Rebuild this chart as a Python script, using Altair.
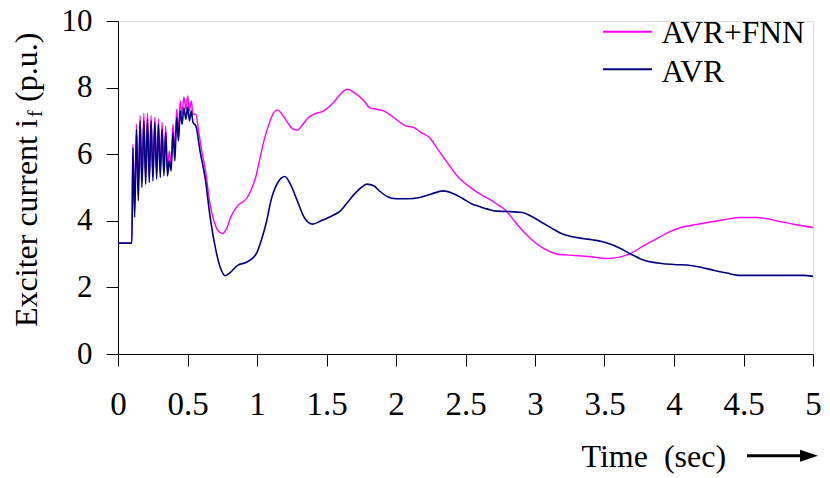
import altair as alt
import pandas as pd

# ---------------- data ----------------
t_osc = [0.107, 0.120, 0.133, 0.146, 0.159, 0.172, 0.186, 0.199, 0.212, 0.225,
         0.238, 0.251, 0.265, 0.278, 0.291, 0.304, 0.317, 0.330, 0.343, 0.356,
         0.369, 0.382, 0.396, 0.409, 0.422, 0.435, 0.448, 0.461, 0.474, 0.488,
         0.501, 0.514, 0.527, 0.540]

t_avr = [0, 0.1] + t_osc + [
    0.56, 0.59, 0.63, 0.66, 0.70, 0.74, 0.77, 0.80, 0.86, 0.92,
    0.96, 1.0, 1.03, 1.07, 1.10, 1.15, 1.2, 1.24, 1.29, 1.34,
    1.40, 1.46, 1.53, 1.6, 1.65, 1.7, 1.75, 1.79, 1.84, 1.88,
    1.94, 2.0, 2.08, 2.17, 2.25, 2.34, 2.41, 2.48, 2.55, 2.6,
    2.66, 2.72, 2.8, 2.91, 2.98, 3.05, 3.12, 3.19, 3.26, 3.34,
    3.41, 3.48, 3.54, 3.6, 3.68, 3.77, 3.84, 3.91, 4.0, 4.12,
    4.2, 4.29, 4.38, 4.48, 4.6, 4.75, 4.93, 5.0]
v_avr = [3.33, 3.33,
    6.2, 4.1, 6.75, 4.6, 7.0, 5.0, 7.0, 5.1, 7.05, 5.15,
    7.0, 5.2, 6.95, 5.25, 6.9, 5.3, 6.75, 5.35, 6.65, 5.35,
    5.8, 5.5, 6.65, 5.8, 7.1, 6.4, 7.3, 6.9, 7.4, 7.05,
    7.42, 7.0, 7.3, 6.95,
    6.85, 6.1, 5.2, 4.2, 3.2, 2.55, 2.35, 2.42, 2.66, 2.75,
    2.85, 3.05, 3.4, 4.0, 4.6, 5.15, 5.33, 5.1, 4.6, 4.1,
    3.9, 4.0, 4.13, 4.3, 4.55, 4.8, 5.0, 5.1, 5.05, 4.9,
    4.72, 4.66, 4.66, 4.7, 4.8, 4.9, 4.82, 4.67, 4.5, 4.43,
    4.35, 4.29, 4.28, 4.25, 4.12, 3.95, 3.78, 3.62, 3.53, 3.47,
    3.43, 3.38, 3.3, 3.2, 3.02, 2.84, 2.76, 2.72, 2.69, 2.66,
    2.6, 2.51, 2.43, 2.36, 2.36, 2.36, 2.36, 2.33]

t_fnn = [0, 0.1] + t_osc + [
    0.56, 0.58, 0.60, 0.63, 0.66, 0.69, 0.72, 0.75, 0.78, 0.81,
    0.86, 0.93, 0.96, 0.99, 1.02, 1.05, 1.09, 1.12, 1.15, 1.18,
    1.22, 1.26, 1.29, 1.33, 1.37, 1.41, 1.48, 1.55, 1.6, 1.65,
    1.7, 1.77, 1.81, 1.86, 1.91, 2.0, 2.07, 2.13, 2.18, 2.24,
    2.3, 2.36, 2.45, 2.52, 2.58, 2.65, 2.72, 2.79, 2.86, 2.93,
    3.0, 3.05, 3.11, 3.17, 3.29, 3.4, 3.52, 3.6, 3.69, 3.78,
    3.88, 3.96, 4.05, 4.15, 4.24, 4.36, 4.48, 4.6, 4.68, 4.76,
    4.88, 5.0]
v_fnn = [3.33, 3.33,
    6.3, 4.4, 6.9, 4.85, 7.16, 5.2, 7.23, 5.3, 7.23, 5.35,
    7.16, 5.4, 7.11, 5.45, 7.05, 5.5, 6.96, 5.55, 6.85, 5.55,
    6.1, 5.7, 6.9, 6.1, 7.35, 6.7, 7.6, 7.2, 7.72, 7.35,
    7.75, 7.3, 7.6, 7.2,
    7.2, 6.7, 6.15, 5.5, 4.55, 4.0, 3.7, 3.62, 3.75, 4.1,
    4.45, 4.7, 4.95, 5.3, 5.85, 6.4, 6.95, 7.25, 7.33, 7.2,
    6.95, 6.75, 6.72, 6.9, 7.1, 7.2, 7.3, 7.55, 7.8, 7.95,
    7.85, 7.6, 7.4, 7.35, 7.3, 7.05, 6.85, 6.8, 6.65, 6.5,
    6.15, 5.8, 5.3, 5.05, 4.87, 4.7, 4.52, 4.31, 3.95, 3.62,
    3.35, 3.2, 3.07, 2.99, 2.96, 2.92, 2.87, 2.9, 3.02, 3.25,
    3.47, 3.65, 3.8, 3.88, 3.95, 4.03, 4.1, 4.1, 4.05, 3.98,
    3.88, 3.8]

x_ticks = [0, 0.5, 1, 1.5, 2, 2.5, 3, 3.5, 4, 4.5, 5]
y_ticks = [0, 2, 4, 6, 8, 10]
series = ["AVR+FNN", "AVR"]
colors = ["#FF00FF", "#000080"]

FONT = "Liberation Serif"
W, H = 695, 333

df_fnn = pd.DataFrame({"t": t_fnn, "v": v_fnn, "s": series[0]})
df_avr = pd.DataFrame({"t": t_avr, "v": v_avr, "s": series[1]})

x_enc = alt.X("t:Q", scale=alt.Scale(domain=[0, 5], nice=False),
              axis=alt.Axis(values=x_ticks, format="~g", title=None, grid=False,
                            tickSize=12, labelFontSize=33, labelPadding=22,
                            labelFont=FONT, labelColor="black", domainColor="black",
                            tickColor="black", labelFlush=False, labelOverlap=False))
y_enc = alt.Y("v:Q", scale=alt.Scale(domain=[0, 10], nice=False),
              axis=alt.Axis(values=y_ticks, title=None, grid=False,
                            tickSize=12, labelFontSize=31, labelPadding=14,
                            labelFont=FONT, labelColor="black", domainColor="black",
                            tickColor="black", labelOverlap=False))

line_fnn = alt.Chart(df_fnn).mark_line(color=colors[0], strokeWidth=1.4,
                                       interpolate="monotone").encode(x=x_enc, y=y_enc)
line_avr = alt.Chart(df_avr).mark_line(color=colors[1], strokeWidth=1.6,
                                       interpolate="monotone").encode(x="t:Q", y="v:Q")


def txt(s, x, y, size=32, align="left", angle=None):
    kw = dict(align=align, baseline="alphabetic", font=FONT, fontSize=size, color="black")
    if angle is not None:
        kw["angle"] = angle
    return alt.Chart(pd.DataFrame({"label": [s]})).mark_text(**kw).encode(
        x=alt.value(x), y=alt.value(y), text="label:N")


# y title with subscript f
yt1 = txt("Exciter current i", -81, 306, angle=270)
yt2 = txt("f", -76, 96, size=20, angle=270)
yt3 = txt("(p.u.)", -81, 81, angle=270)

# x title and arrow
xt = txt("Time\u00a0 (sec)", 463.5, 446)
arrow_line = alt.Chart(pd.DataFrame({"a": [0]})).mark_rule(color="black", strokeWidth=3).encode(
    x=alt.value(629), x2=alt.value(684.5), y=alt.value(434.7))
arrow_head = alt.Chart(pd.DataFrame({"a": [0]})).mark_point(
    shape="M-1,-0.667L1,0L-1,0.667Z", filled=True, size=324, color="black", opacity=1).encode(
    x=alt.value(691), y=alt.value(434.7))

# legend
leg_layers = []
for i, (name, col) in enumerate(zip(series, colors)):
    ly = 10.7 + 37.6 * i
    leg_layers.append(alt.Chart(pd.DataFrame({"a": [0]})).mark_rule(color=col, strokeWidth=2).encode(
        x=alt.value(485), x2=alt.value(534), y=alt.value(ly)))
    leg_layers.append(txt(name, 543.5, 22.3 + 38.4 * i, size=31.5))

chart = alt.layer(line_fnn, line_avr, yt1, yt2, yt3, xt, arrow_line, arrow_head, *leg_layers).properties(
    width=W, height=H,
    autosize=alt.AutoSizeParams(type="none"),
    padding={"left": 110, "top": 13, "right": 9, "bottom": 124},
).configure_view(stroke=None).configure(background="white")

chart.save("out.html", embed_options={"renderer": "svg", "actions": False})
